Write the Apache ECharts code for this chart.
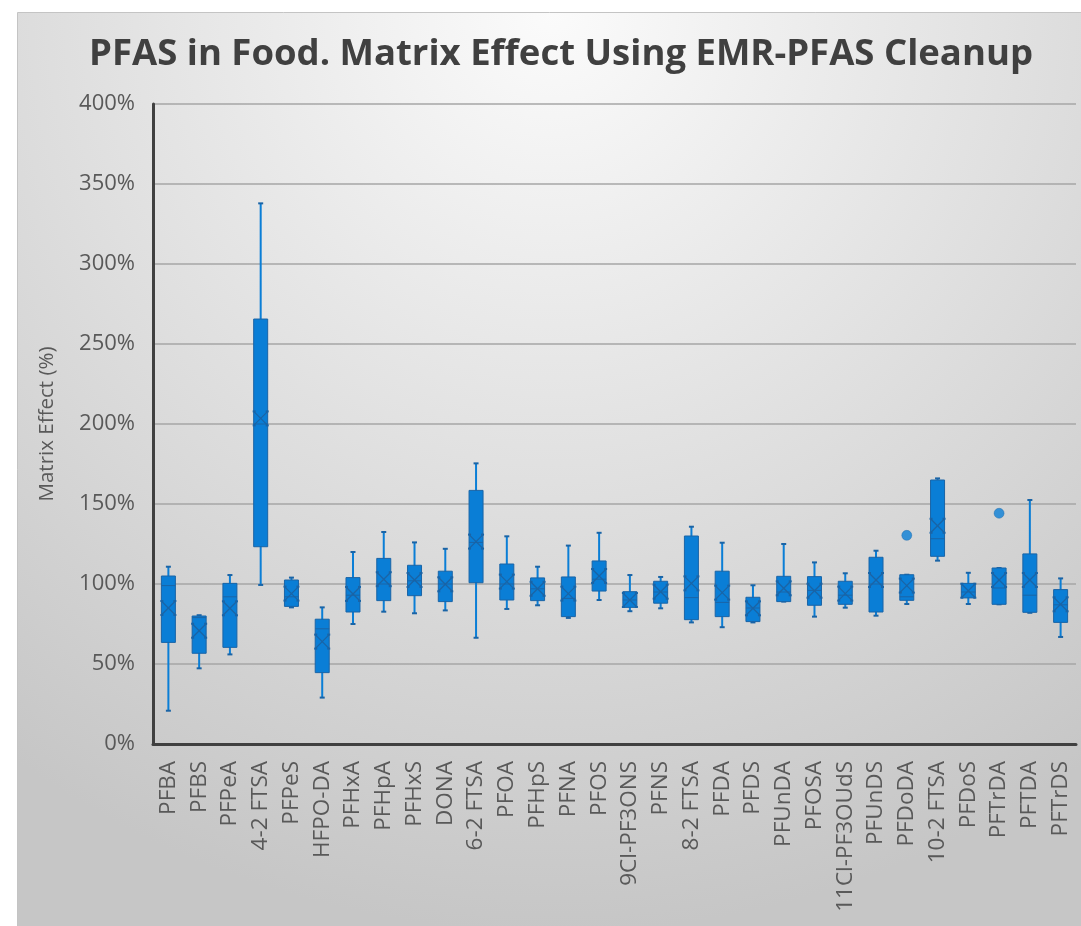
<!DOCTYPE html>
<html>
<head>
<meta charset="utf-8">
<script src="https://cdn.jsdelivr.net/npm/echarts@6/dist/echarts.min.js"></script>
<style>
html,body{margin:0;padding:0;background:#ffffff;}
#chart{width:1081px;height:926px;}
</style>
</head>
<body>
<div id="chart"></div>
<script>
const categories = ['PFBA','PFBS','PFPeA','4-2 FTSA','PFPeS','HFPO-DA','PFHxA','PFHpA','PFHxS','DONA','6-2 FTSA','PFOA','PFHpS','PFNA','PFOS','9Cl-PF3ONS','PFNS','8-2 FTSA','PFDA','PFDS','PFUnDA','PFOSA','11Cl-PF3OUdS','PFUnDS','PFDoDA','10-2 FTSA','PFDoS','PFTrDA','PFTDA','PFTrDS'];
const whiskerLow  = [20.8, 47.3, 56.0,  99.4, 85.4, 29.0, 75.0, 82.7, 81.7, 83.5, 66.4, 84.4, 86.7, 78.8, 90.0, 83.0, 84.8, 76.0, 73.0, 76.0, 89.0, 79.6, 85.2, 80.2, 87.5, 114.6, 87.5, 87.3, 82.0, 66.9];
const q1          = [63.5, 56.7, 60.4, 123.3, 86.0, 44.6, 82.5, 89.6, 92.7, 89.0,100.8, 90.0, 89.6, 79.6, 95.6, 85.4, 88.0, 77.7, 79.6, 76.5, 89.0, 86.7, 87.3, 82.5, 89.8, 117.3, 91.3, 87.3, 82.3, 76.0];
const median      = [99.0, 79.0, 92.0, 200.0, 92.0, 72.0, 93.0,100.0,102.0,100.0,126.0,100.0, 97.0, 91.0,103.0, 90.0, 95.0, 91.5, 88.5, 85.0, 95.0, 96.0, 93.0,100.0, 92.0, 128.3, 95.0, 97.5, 93.0, 87.0];
const q3          = [105.0, 80.0,100.4,265.6,102.5, 78.0,104.0,116.0,111.7,108.0,158.5,112.5,103.8,104.4,114.4, 95.2,101.7,130.0,108.0, 91.7,104.8,104.6,101.7,116.7,105.8, 165.0,100.4,110.0,118.8, 96.5];
const whiskerHigh = [110.8, 80.5,105.6,337.9,104.0, 85.4,120.0,132.5,126.0,122.0,175.4,129.8,110.8,124.0,132.0,105.6,104.4,135.8,125.8, 99.2,125.0,113.5,106.7,120.8,105.8, 166.0,107.0,110.0,152.5,103.5];
const mean        = [85.0, 70.8, 84.8,203.5, 94.0, 64.0, 93.8,103.0,102.5, 99.8,126.5,101.5, 97.0, 94.0,105.0, 90.0, 95.2,100.4, 94.6, 84.8, 97.3, 95.8, 94.0,102.5, 99.0, 136.4, 95.8,102.5,102.5, 87.3];
const outlierCats = ['PFDoDA','PFTrDA'];
const outlierVals = [130.4, 144.2];
const yTicks = [0, 50, 100, 150, 200, 250, 300, 350, 400];

const boxData = categories.map((c, i) => [i, whiskerLow[i], q1[i], median[i], q3[i], whiskerHigh[i], mean[i]]);
const outlierData = outlierCats.map((c, i) => [categories.indexOf(c), outlierVals[i]]);

const FILL = '#0a7ed6';
const EDGE = '#1a64a6';

function renderBox(params, api) {
  const x = api.value(0);
  const pLow = api.coord([x, api.value(1)]);
  const pQ1 = api.coord([x, api.value(2)]);
  const pMed = api.coord([x, api.value(3)]);
  const pQ3 = api.coord([x, api.value(4)]);
  const pHigh = api.coord([x, api.value(5)]);
  const pMean = api.coord([x, api.value(6)]);
  const cx = pQ1[0];
  const bw = 14, capW = 5, xs = 7;
  const children = [
    {type:'line', shape:{x1:cx, y1:pHigh[1], x2:cx, y2:pLow[1]}, style:{stroke:FILL, lineWidth:2}},
    {type:'line', shape:{x1:cx-capW/2, y1:pHigh[1], x2:cx+capW/2, y2:pHigh[1]}, style:{stroke:EDGE, lineWidth:2}},
    {type:'line', shape:{x1:cx-capW/2, y1:pLow[1], x2:cx+capW/2, y2:pLow[1]}, style:{stroke:EDGE, lineWidth:2}},
    {type:'rect', shape:{x:cx-bw/2, y:pQ3[1], width:bw, height:Math.max(1, pQ1[1]-pQ3[1])}, style:{fill:FILL, stroke:EDGE, lineWidth:1}},
    {type:'line', shape:{x1:cx-bw/2, y1:pMed[1], x2:cx+bw/2, y2:pMed[1]}, style:{stroke:EDGE, lineWidth:1}},
    {type:'line', shape:{x1:cx-xs, y1:pMean[1]-xs, x2:cx+xs, y2:pMean[1]+xs}, style:{stroke:EDGE, lineWidth:1.3}},
    {type:'line', shape:{x1:cx-xs, y1:pMean[1]+xs, x2:cx+xs, y2:pMean[1]-xs}, style:{stroke:EDGE, lineWidth:1.3}},
    {type:'line', shape:{x1:cx-xs-1, y1:pMean[1]-xs, x2:cx-xs+2, y2:pMean[1]-xs}, style:{stroke:EDGE, lineWidth:2}},
    {type:'line', shape:{x1:cx+xs-2, y1:pMean[1]-xs, x2:cx+xs+1, y2:pMean[1]-xs}, style:{stroke:EDGE, lineWidth:2}},
    {type:'line', shape:{x1:cx-xs-1, y1:pMean[1]+xs, x2:cx-xs+2, y2:pMean[1]+xs}, style:{stroke:EDGE, lineWidth:2}},
    {type:'line', shape:{x1:cx+xs-2, y1:pMean[1]+xs, x2:cx+xs+1, y2:pMean[1]+xs}, style:{stroke:EDGE, lineWidth:2}}
  ];
  return {type:'group', children};
}

const chart = echarts.init(document.getElementById('chart'), null, {renderer:'canvas'});
chart.setOption({
  animation: false,
  backgroundColor: '#ffffff',
  graphic: [{
    type: 'rect', z: -10, silent: true,
    shape: {x: 17.5, y: 12.5, width: 1070, height: 920},
    style: {
      stroke: '#c4c4c4', lineWidth: 1,
      fill: {type:'radial', x:0.5, y:0.0, r:1.0, colorStops:[{offset:0, color:'#fbfbfb'},{offset:1, color:'#c6c6c6'}]}
    }
  }],
  title: {
    text: 'PFAS in Food. Matrix Effect Using EMR-PFAS Cleanup',
    left: 556, top: 31, textAlign: 'center',
    textStyle: {fontFamily:'Open Sans', fontWeight: 'bold', fontSize: 36.5, color:'#404040'}
  },
  grid: {left: 153, right: 5, top: 104, bottom: 182, containLabel: false},
  xAxis: {
    type: 'category', data: categories,
    axisLine: {show:true, lineStyle:{color:'#404040', width:3}},
    axisTick: {show:false},
    axisLabel: {rotate: 90, fontFamily:'Open Sans', fontSize: 22.5, color:'#595959', margin: 17, interval: 0},
    splitLine: {show:false}
  },
  yAxis: {
    type: 'value', min: yTicks[0], max: yTicks[yTicks.length-1], interval: 50,
    name: 'Matrix Effect (%)', nameLocation: 'middle', nameRotate: 90, nameGap: 95,
    nameTextStyle: {fontFamily:'Open Sans', fontSize: 20.5, color:'#595959'},
    axisLine: {show:true, lineStyle:{color:'#404040', width:3}},
    axisTick: {show:false},
    axisLabel: {formatter: '{value}%', fontFamily:'Open Sans', fontSize: 22, color:'#595959', margin: 18},
    splitLine: {show:true, lineStyle:{color:'#a6a6a6', width:1.5}}
  },
  series: [
    {type:'custom', renderItem: renderBox, data: boxData, encode:{x:0, y:[1,2,3,4,5,6]}, z: 3},
    {type:'scatter', data: outlierData, symbol:'circle', symbolSize: 10, itemStyle:{color:FILL, borderColor:EDGE, borderWidth:0.5}, z: 4}
  ]
});
</script>
</body>
</html>
